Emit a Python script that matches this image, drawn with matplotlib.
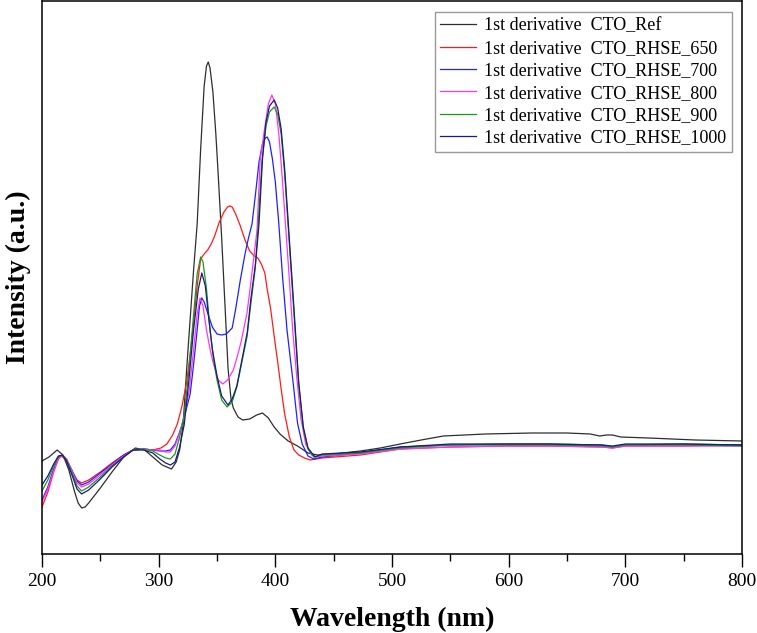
import numpy as np
import matplotlib
matplotlib.use('Agg')
import matplotlib.pyplot as plt

plt.rcParams['font.family'] = ['Liberation Serif', 'DejaVu Serif']

# ---------------- data (wavelength nm, intensity a.u.) ----------------
ref_x = [200, 206, 213, 218, 223, 228, 231, 234, 237, 240, 250, 260, 270, 280, 288, 295, 303, 311, 315,
         318, 321, 324, 327, 330, 333, 336, 339, 341, 342.5, 344, 346.5, 349, 351, 354, 357, 359.5, 362,
         364, 368, 372, 378, 384, 389, 394, 399, 404, 411, 419, 428, 436, 450, 473, 490, 507, 525, 544,
         580, 620, 650, 670, 678, 684, 689, 696, 720, 760, 800]
ref_y = [93, 97, 104, 99, 84, 62, 51, 46, 47, 51, 66, 82, 97, 106, 104, 97, 89, 85, 92,
         104, 130, 185, 235, 285, 330, 405, 468, 488, 492, 486, 462, 420, 380, 316, 245, 185, 155,
         146, 137, 134, 135, 139, 141, 136, 127, 120, 113, 108, 101, 99, 100, 103, 106, 110, 114, 118,
         120, 121, 121, 120, 118, 119, 119, 117, 116, 114, 113]

r650_x = [200, 205, 210, 214, 217, 221, 226, 230, 234, 240, 250, 260, 270, 278, 287, 295, 302, 307,
          312, 316, 320, 324, 327, 330, 333, 336, 339, 342, 345, 348, 352, 356, 359, 361, 363, 366,
          370, 374, 378, 382, 385, 388, 391, 393, 396, 399, 402, 405, 408, 412, 416, 420, 425, 430,
          440, 473, 507, 550, 600, 635, 680, 689, 700, 750, 800]
r650_y = [47, 62, 82, 95, 98, 93, 82, 74, 71, 74, 82, 91, 99, 104, 105, 104, 106, 110,
          119, 130, 148, 172, 200, 232, 268, 295, 300, 304, 310, 318, 332, 342, 347, 348, 347, 340,
          328, 314, 303, 298, 296, 290, 281, 265, 245, 218, 192, 165, 140, 117, 104, 99, 96, 94,
          96, 99, 105, 107, 108, 108, 107, 106, 108, 108, 109]

r700_x = [200, 205, 210, 214, 217.5, 221, 226, 230, 234, 240, 250, 260, 270, 278, 287, 295, 301, 306,
          310, 314, 318, 322, 327, 330, 333, 335, 337, 339, 342, 346, 350, 354, 358, 363, 366, 370,
          374, 377, 380, 383, 386, 389, 391.5, 393, 395, 397.5, 400, 403, 406, 410, 415, 419, 423,
          428, 433, 440, 473, 507, 550, 600, 635, 680, 689, 700, 750, 800]
r700_y = [54, 67, 85, 96, 99, 95, 83, 73, 69, 72, 81, 90, 99, 104, 105, 104, 103, 103,
          104, 110, 122, 137, 160, 190, 224, 248, 256, 252, 241, 227, 220, 219, 220, 226, 245, 274,
          300, 316, 330, 360, 392, 410, 416, 417, 412, 395, 372, 330, 280, 224, 174, 131, 110,
          98, 95, 97, 101, 107, 109, 110, 110, 109, 107, 109, 110, 109]

r800_x = [200, 205, 210, 214, 217.5, 221, 226, 230, 234, 240, 250, 260, 270, 278, 287, 295, 301, 306,
          310, 314, 318, 322, 326, 330, 333, 335.5, 338, 341, 344, 347, 351, 355, 359, 364, 368, 371,
          375.7, 378, 381, 384.3, 387, 391, 394, 397, 400, 403, 406, 409, 412, 415, 418.6, 422, 426,
          431, 436, 440, 473, 507, 550, 600, 635, 680, 689, 700, 750, 800]
r800_y = [52, 65, 83, 95, 99, 95, 82, 71, 67, 70, 79, 89, 98, 104, 105, 104, 104, 102,
          102, 108, 121, 138, 162, 205, 240, 256, 248, 224, 205, 190, 174, 170, 174, 184, 200, 214,
          241, 262, 291, 324, 394, 427, 450, 459, 450, 420, 375, 325, 275, 222, 174, 135, 110,
          99, 97, 98, 100, 105, 107, 108, 108, 107, 106, 108, 108, 108]

r900_x = [200, 205, 210, 214, 217.5, 221, 226, 230, 234, 240, 250, 260, 270, 278, 287, 295, 301, 306,
          310, 314, 318, 322, 326, 330, 333, 336, 338, 341, 344, 347, 350, 354, 358.6, 363, 367, 371,
          375.7, 379, 382.6, 385, 388.6, 392, 395, 399, 402, 405, 408, 412, 416, 420, 424, 428, 433,
          440, 473, 507, 550, 600, 635, 680, 689, 700, 750, 800]
r900_y = [63, 74, 88, 97, 99, 94, 80, 68, 63, 67, 77, 88, 97, 104, 105, 103, 99, 96,
          95, 100, 117, 140, 185, 240, 280, 297, 292, 265, 224, 195, 174, 154, 147, 152, 167, 190,
          217, 250, 284, 324, 394, 428, 442, 447, 440, 420, 380, 310, 240, 170, 125, 105, 97,
          99, 101, 106, 109, 109, 109, 108, 107, 109, 109, 108]

r1000_x = [200, 205, 210, 214, 217.5, 221, 226, 230, 234, 240, 250, 260, 270, 278, 287, 295, 301, 306,
           310, 314, 318, 322, 326, 330, 334, 337, 340, 343, 346, 350, 354, 359.4, 363, 367, 371, 376,
           379, 383, 386, 389, 392, 395, 399, 402, 405, 408, 412, 416, 420, 424, 428, 434,
           440, 473, 507, 550, 600, 635, 680, 689, 700, 750, 800]
r1000_y = [69, 78, 90, 98, 99, 93, 78, 65, 60, 64, 75, 87, 97, 104, 104, 101, 95, 91,
           89, 92, 107, 130, 175, 225, 265, 281, 268, 235, 205, 178, 158, 149, 155, 168, 192, 222,
           255, 290, 330, 395, 432, 448, 454, 446, 425, 385, 315, 245, 172, 127, 106, 97,
           100, 102, 107, 110, 110, 110, 109, 108, 110, 110, 109]

labels = ['1st derivative  CTO_Ref', '1st derivative  CTO_RHSE_650', '1st derivative  CTO_RHSE_700',
          '1st derivative  CTO_RHSE_800', '1st derivative  CTO_RHSE_900', '1st derivative  CTO_RHSE_1000']
colors = ['#2e2e2e', '#ff1a1a', '#2020ff', '#ff33ff', '#1a9a1a', '#1a1a80']
series = [(ref_x, ref_y), (r650_x, r650_y), (r700_x, r700_y),
          (r800_x, r800_y), (r900_x, r900_y), (r1000_x, r1000_y)]

fig = plt.figure(figsize=(7.57, 6.33), dpi=100)
ax = fig.add_axes([42 / 757, 1 - 554 / 633, 700 / 757, 553 / 633])

for (x, y), c, lab in zip(series, colors, labels):
    ax.plot(x, y, color=c, lw=0.9, label=lab)

ax.set_xlim(200, 800)
ax.set_ylim(0, 553)
ax.set_xticks(np.arange(200, 801, 100))
ax.set_xticks(np.arange(250, 800, 100), minor=True)
ax.set_yticks([])
ax.tick_params(axis='x', which='major', direction='out', length=9, width=1, labelsize=14, pad=5)
ax.tick_params(axis='x', which='minor', direction='out', length=5, width=1)
for s in ax.spines.values():
    s.set_linewidth(1.1)

ax.set_xlabel('Wavelength (nm)', fontsize=20, fontweight='bold', labelpad=12)
ax.set_ylabel('Intensity (a.u.)', fontsize=20, fontweight='bold', labelpad=8)

leg = ax.legend(loc='upper right', bbox_to_anchor=(0.9857, 0.98), fontsize=13, frameon=True,
                fancybox=False, edgecolor='#808080', handlelength=2.0, handletextpad=0.45,
                labelspacing=0.3, borderpad=0.3, borderaxespad=0.0)
leg.get_frame().set_linewidth(1.0)

fig.savefig('out.png', dpi=100)
